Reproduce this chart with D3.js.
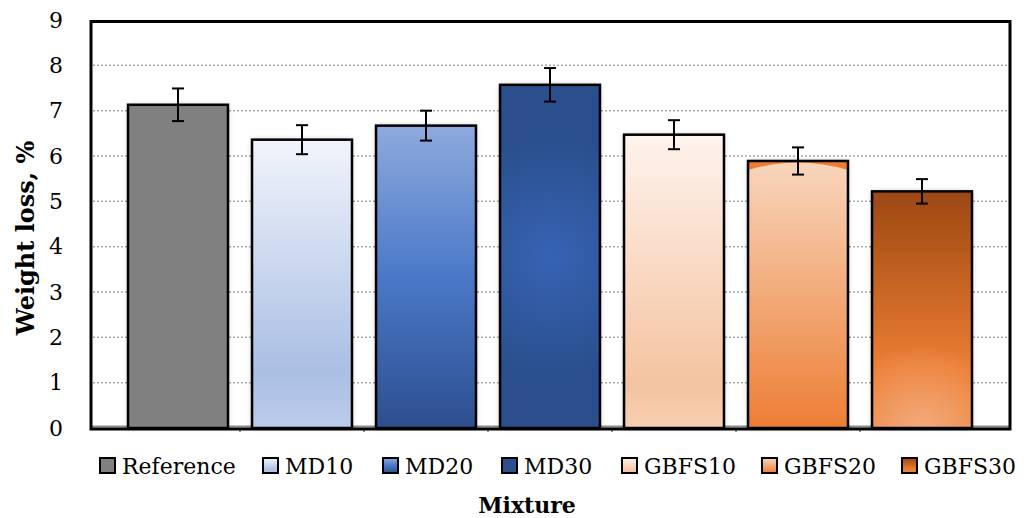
<!DOCTYPE html>
<html lang="en">
<head>
  <meta charset="UTF-8">
  <title>Weight loss by mixture</title>
  <script src="https://d3js.org/d3.v7.min.js"></script>
  <style>
    body { margin: 0; background: #fff; }
    svg { display: block; }
    text { font-family: "Palatino Linotype", "Book Antiqua", Palatino, "DejaVu Serif", serif; fill: #000; }
  </style>
</head>
<body>
  <svg width="1030" height="518"></svg>

  <script>
    // data
    const mixtures = ["Reference", "MD10", "MD20", "MD30", "GBFS10", "GBFS20", "GBFS30"];
    const weightLoss = [7.13, 6.36, 6.67, 7.57, 6.47, 5.89, 5.22];
    const errors = [0.36, 0.32, 0.33, 0.37, 0.32, 0.30, 0.27];
    const yTicks = [0, 1, 2, 3, 4, 5, 6, 7, 8, 9];

    // fills, one per mixture (linear stops top -> bottom)
    const fills = [
      { stops: [[0, "#808080"], [1, "#808080"]] },
      { stops: [[0, "#f1f4fb"], [0.8, "#aabfe4"], [1, "#bccbea"]] },
      { stops: [[0, "#8eaadd"], [0.5, "#4a78c8"], [1, "#2d4f8e"]] },
      { stops: [[0, "#2c4f8c"], [1, "#2c4f8c"]], glow: "#3763b4", at: 0.5, r: 120, op: 1 },
      { stops: [[0, "#fef3ed"], [0.85, "#f4c3a0"], [1, "#f6cfb2"]] },
      { stops: [[0, "#f8d6be"], [1, "#ed7e34"]], edge: "#ed7d31" },
      { stops: [[0, "#9c4812"], [0.75, "#ec7d33"], [1, "#ee8640"]], glow: "#f4b085", at: 1, r: 85, op: 0.85 }
    ];

    const svg = d3.select("svg");
    const defs = svg.append("defs");

    const x = d3.scaleBand().domain(mixtures).range([116, 984]).paddingInner(0.194).paddingOuter(0.097);
    const y = d3.scaleLinear().domain([0, 9]).range([428, 20]);

    const left = 91, right = 1010;

    fills.forEach((f, i) => {
      const g = defs.append("linearGradient").attr("id", "lg" + i)
        .attr("x1", 0).attr("y1", 0).attr("x2", 0).attr("y2", 1);
      f.stops.forEach(s => g.append("stop").attr("offset", s[0]).attr("stop-color", s[1]));
      if (f.glow) {
        const top = y(weightLoss[i]);
        const r = defs.append("radialGradient").attr("id", "rg" + i)
          .attr("gradientUnits", "userSpaceOnUse")
          .attr("cx", x(mixtures[i]) + x.bandwidth() / 2)
          .attr("cy", top + (y(0) - top) * f.at)
          .attr("r", f.r);
        r.append("stop").attr("offset", 0).attr("stop-color", f.glow).attr("stop-opacity", f.op);
        r.append("stop").attr("offset", 1).attr("stop-color", f.glow).attr("stop-opacity", 0);
      }
    });

    const shadow = defs.append("filter").attr("id", "shadow")
      .attr("x", -0.1).attr("y", -0.1).attr("width", 1.2).attr("height", 1.2);
    shadow.append("feDropShadow").attr("dx", 0).attr("dy", 0)
      .attr("stdDeviation", 2.5).attr("flood-color", "#000").attr("flood-opacity", 0.3);

    // gridlines
    svg.append("g").selectAll("line")
      .data(yTicks.filter(t => t > 0 && t < 9))
      .join("line")
        .attr("x1", left + 2).attr("x2", right - 2)
        .attr("y1", d => y(d)).attr("y2", d => y(d))
        .attr("stroke", "#a6a6a6").attr("stroke-width", 1.5)
        .attr("stroke-dasharray", "2,2");

    // axis base (gray) and band ticks
    svg.append("line").attr("x1", left).attr("x2", right)
      .attr("y1", y(0) - 1.5).attr("y2", y(0) - 1.5)
      .attr("stroke", "#8c8c8c").attr("stroke-width", 2);
    const bounds = mixtures.slice(1).map(m => x(m) - x.step() * x.paddingInner() / 2);
    svg.append("g").selectAll("line").data(bounds).join("line")
      .attr("x1", d => d).attr("x2", d => d)
      .attr("y1", y(0)).attr("y2", y(0) + 4)
      .attr("stroke", "#8c8c8c").attr("stroke-width", 2);

    // bars
    const bars = svg.append("g").selectAll("g").data(mixtures).join("g");
    bars.append("rect")
      .attr("x", d => x(d)).attr("y", (d, i) => y(weightLoss[i]))
      .attr("width", x.bandwidth()).attr("height", (d, i) => y(0) - y(weightLoss[i]))
      .attr("fill", (d, i) => `url(#lg${i})`)
      .attr("filter", "url(#shadow)");
    bars.filter((d, i) => fills[i].glow).append("rect")
      .attr("x", d => x(d)).attr("y", d => y(weightLoss[mixtures.indexOf(d)]))
      .attr("width", x.bandwidth()).attr("height", d => y(0) - y(weightLoss[mixtures.indexOf(d)]))
      .attr("fill", d => `url(#rg${mixtures.indexOf(d)})`);
    // GBFS20 orange top corners
    bars.filter(d => fills[mixtures.indexOf(d)].edge).each(function (d) {
      const i = mixtures.indexOf(d);
      const x0 = x(d), w = x.bandwidth(), y0 = y(weightLoss[i]);
      d3.select(this).append("path")
        .attr("d", `M${x0},${y0} L${x0 + w},${y0} L${x0 + w},${y0 + 9} Q${x0 + w / 2},${y0 - 6} ${x0},${y0 + 9} Z`)
        .attr("fill", fills[i].edge);
    });
    bars.append("rect")
      .attr("x", d => x(d)).attr("y", (d, i) => y(weightLoss[i]))
      .attr("width", x.bandwidth()).attr("height", (d, i) => y(0) - y(weightLoss[i]))
      .attr("fill", "none").attr("stroke", "#000").attr("stroke-width", 2.5);

    // error bars
    const eb = svg.append("g").attr("stroke", "#000").attr("stroke-width", 2);
    mixtures.forEach((m, i) => {
      const cx = x(m) + x.bandwidth() / 2;
      const hi = y(weightLoss[i] + errors[i]), lo = y(weightLoss[i] - errors[i]);
      eb.append("line").attr("x1", cx).attr("x2", cx).attr("y1", hi).attr("y2", lo);
      eb.append("line").attr("x1", cx - 6).attr("x2", cx + 6).attr("y1", hi).attr("y2", hi);
      eb.append("line").attr("x1", cx - 6).attr("x2", cx + 6).attr("y1", lo).attr("y2", lo);
    });

    // frame
    svg.append("rect").attr("x", left).attr("y", y(9) + 1.5)
      .attr("width", right - left).attr("height", y(0) + 1 - y(9) - 1.5)
      .attr("fill", "none").attr("stroke", "#000").attr("stroke-width", 3);

    // y axis labels
    const yAxis = d3.axisLeft(y).tickValues(yTicks).tickSize(0).tickPadding(0);
    const ya = svg.append("g").attr("transform", "translate(63,0)").call(yAxis);
    ya.select(".domain").remove();
    ya.selectAll("text").attr("font-size", 22).attr("font-family", null);

    svg.append("text")
      .attr("transform", "translate(34,238) rotate(-90)")
      .attr("text-anchor", "middle").attr("font-size", 24).attr("font-weight", "bold")
      .text("Weight loss, %");

    // legend
    const legendX = [100, 263, 383, 502, 622, 762, 902];
    const lg = svg.append("g").selectAll("g").data(mixtures).join("g")
      .attr("transform", (d, i) => `translate(${legendX[i]},466)`);
    lg.append("rect").attr("x", 0).attr("y", -8).attr("width", 15).attr("height", 15)
      .attr("fill", (d, i) => `url(#lg${i})`).attr("stroke", "#000").attr("stroke-width", 2);
    lg.append("text").attr("x", 22).attr("y", 0).attr("dy", "0.35em")
      .attr("font-size", 22).text(d => d);

    svg.append("text").attr("x", 527).attr("y", 505).attr("dy", "0.35em")
      .attr("text-anchor", "middle").attr("font-size", 22).attr("font-weight", "bold")
      .text("Mixture");
  </script>
</body>
</html>
